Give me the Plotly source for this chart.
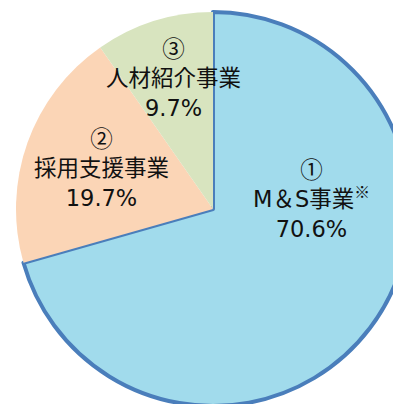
import plotly.graph_objects as go

# Data
circled = ["①", "②", "③"]
labels = ["M＆S事業", "採用支援事業", "人材紹介事業"]
label_suffix = ["※", "", ""]
values = [70.6, 19.7, 9.7]
colors = ["#A1DBEC", "#FBD5B6", "#D8E4BF"]

fig = go.Figure(
    go.Pie(
        labels=labels,
        values=values,
        sort=False,
        direction="clockwise",
        rotation=0,
        textinfo="none",
        hoverinfo="label+percent",
        marker=dict(
            colors=colors,
            line=dict(color=["#4A7EBB", "rgba(0,0,0,0)", "rgba(0,0,0,0)"], width=[4, 0, 0]),
        ),
        showlegend=False,
    )
)

cjk = "font-family:'Noto Sans CJK JP'"
font = dict(family="DejaVu Sans, Noto Sans CJK JP, sans-serif", size=22.5, color="#111111")
text_pos = [(0.749, 0.530), (0.217, 0.609), (0.401, 0.837)]
for c, lab, suf, v, (x, y) in zip(circled, labels, label_suffix, values, text_pos):
    sup = f'<sup><span style="{cjk}">{suf}</span></sup>' if suf else ""
    fig.add_annotation(
        x=x, y=y, xref="paper", yref="paper",
        xanchor="center", yanchor="middle",
        text=f'<span style="{cjk}">{c}</span><br>{lab}{sup}<br>{v:.1f}%',
        showarrow=False, font=font, align="center",
    )

fig.update_layout(
    width=420, height=420,
    margin=dict(l=8, r=18, t=4, b=22),
    paper_bgcolor="white",
    plot_bgcolor="white",
)

fig.write_html("out.html")
